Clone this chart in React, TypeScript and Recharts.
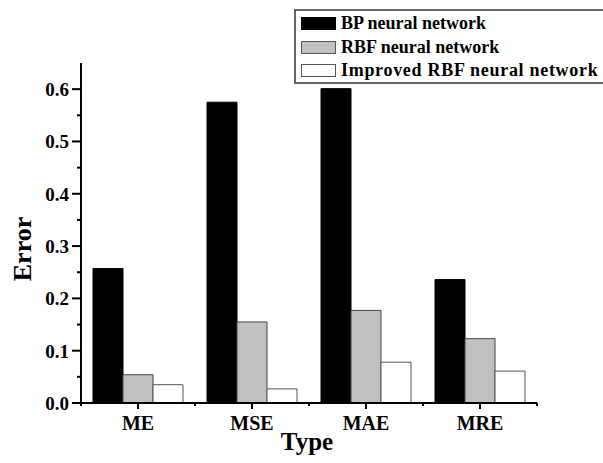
import React from 'react';
import { BarChart, Bar, XAxis, YAxis, Legend, Label } from 'recharts';

const categories = ['ME', 'MSE', 'MAE', 'MRE'];
const bpValues = [0.257, 0.575, 0.601, 0.236];
const rbfValues = [0.054, 0.155, 0.177, 0.123];
const improvedValues = [0.035, 0.027, 0.078, 0.061];
const yTicks = [0, 0.05, 0.1, 0.15, 0.2, 0.25, 0.3, 0.35, 0.4, 0.45, 0.5, 0.55, 0.6];
const seriesNames = ['BP neural network', 'RBF neural network', 'Improved RBF neural network'];

const data = categories.map((c, i) => ({
  name: c,
  bp: bpValues[i],
  rbf: rbfValues[i],
  imp: improvedValues[i],
}));

const FONT = '"Liberation Serif", "Times New Roman", serif';

const YTick = (props: any) => {
  const { x, y, payload } = props;
  const v = payload.value as number;
  const major = Math.round(v * 100) % 10 === 0;
  return (
    <g>
      <line x1={x} x2={x - (major ? 9 : 4)} y1={y} y2={y} stroke="#000" strokeWidth={2} />
      {major && (
        <text x={x - 12} y={y} dy="0.36em" textAnchor="end" fontFamily={FONT} fontWeight="bold" fontSize={19} fill="#000">
          {v.toFixed(1)}
        </text>
      )}
    </g>
  );
};

const XTick = (props: any) => {
  const { x, y, payload, index, visibleTicksCount } = props;
  const off = payload.offset || 0;
  const last = index === visibleTicksCount - 1;
  return (
    <g>
      <line x1={x} x2={x} y1={y} y2={y + 6} stroke="#000" strokeWidth={2} />
      <line x1={x - off} x2={x - off} y1={y} y2={y + 3} stroke="#000" strokeWidth={2} />
      {last && <line x1={x + off} x2={x + off} y1={y} y2={y + 3} stroke="#000" strokeWidth={2} />}
      <text x={x} y={y + 20} dy="0.36em" textAnchor="middle" fontFamily={FONT} fontWeight="bold" fontSize={20} fill="#000">
        {payload.value}
      </text>
    </g>
  );
};

const swatches = [
  { fill: '#000000', stroke: '#000000' },
  { fill: '#c0c0c0', stroke: '#555555' },
  { fill: '#ffffff', stroke: '#555555' },
];

const LegendBox = () => (
  <div
    style={{
      border: '2px solid #666',
      width: 330,
      height: 75,
      boxSizing: 'border-box',
      background: '#fff',
      paddingTop: 1,
      paddingLeft: 5,
    }}
  >
    {seriesNames.map((n, i) => (
      <div key={n} style={{ display: 'flex', alignItems: 'center', height: 23.5 }}>
        <div
          style={{
            width: 35,
            height: 13,
            boxSizing: 'border-box',
            background: swatches[i].fill,
            border: `1.5px solid ${swatches[i].stroke}`,
            marginRight: 5,
          }}
        />
        <span
          style={{
            fontFamily: FONT,
            fontWeight: 'bold',
            fontSize: 18,
            color: '#000',
            whiteSpace: 'nowrap',
            letterSpacing: i === 2 ? 0.7 : 0,
          }}
        >
          {n}
        </span>
      </div>
    ))}
  </div>
);

export default function App() {
  return (
    <div style={{ position: 'absolute', left: 0, top: 0, width: 603, height: 463, overflow: 'hidden', background: '#fff' }}>
      <BarChart
        width={603}
        height={463}
        data={data}
        margin={{ top: 63, right: 66, bottom: 0, left: 0 }}
        barCategoryGap={12}
        barGap={0}
      >
        <XAxis
          dataKey="name"
          height={60}
          tickSize={0}
          tickMargin={0}
          tickLine={false}
          axisLine={{ stroke: '#000', strokeWidth: 2 }}
          tick={<XTick />}
          interval={0}
        >
          <Label
            content={(p: any) => {
              const vb = p.viewBox;
              return (
                <text x={vb.x + vb.width / 2 - 2} y={vb.y + 38} dy="0.36em" textAnchor="middle" fontFamily={FONT} fontWeight="bold" fontSize={25} fill="#000">
                  Type
                </text>
              );
            }}
          />
        </XAxis>
        <YAxis
          width={81}
          domain={[0, 0.65]}
          ticks={yTicks}
          interval={0}
          tickSize={0}
          tickMargin={0}
          tickLine={false}
          axisLine={{ stroke: '#000', strokeWidth: 2 }}
          tick={<YTick />}
        >
          <Label
            content={(p: any) => {
              const vb = p.viewBox;
              const cx = vb.x + 22;
              const cy = vb.y + vb.height / 2 + 16;
              return (
                <text x={cx} y={cy} dy="0.36em" textAnchor="middle" transform={`rotate(-90 ${cx} ${cy})`} fontFamily={FONT} fontWeight="bold" fontSize={26} fill="#000">
                  Error
                </text>
              );
            }}
          />
        </YAxis>
        <Legend
          layout="horizontal"
          verticalAlign="middle"
          content={<LegendBox />}
          wrapperStyle={{ position: 'absolute', left: 294, top: 9, width: 330, height: 75 }}
        />
        <Bar dataKey="bp" name={seriesNames[0]} fill="#000" stroke="#000" strokeWidth={1} isAnimationActive={false} />
        <Bar dataKey="rbf" name={seriesNames[1]} fill="#c0c0c0" stroke="#444" strokeWidth={1} isAnimationActive={false} />
        <Bar dataKey="imp" name={seriesNames[2]} fill="#fff" stroke="#555" strokeWidth={1} isAnimationActive={false} />
      </BarChart>
    </div>
  );
}
